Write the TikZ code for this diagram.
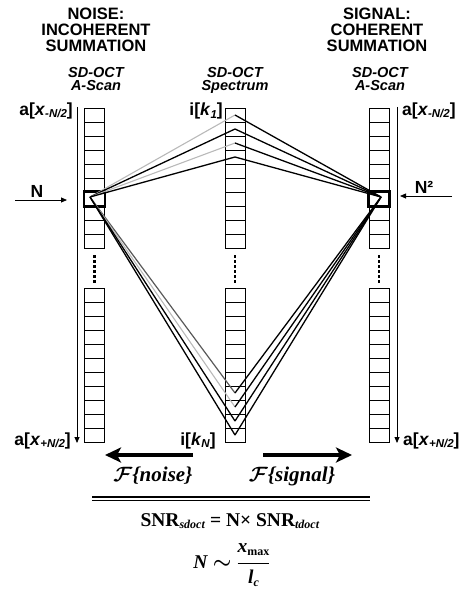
\documentclass[tikz,border=0pt]{standalone}
\usepackage{fontspec}
\setmainfont{Liberation Serif}
\setsansfont{Liberation Sans}
\usetikzlibrary{arrows.meta}

\newcommand{\sub}[2][11.5]{\raisebox{-0.3ex}{\fontsize{#1}{#1}\selectfont #2}}

\tikzset{
  cell/.style={draw, line width=0.7pt, minimum width=20pt, minimum height=14pt, inner sep=0pt},
  hilite/.style={line width=2.6pt},
  head/.style={align=center, inner sep=0pt, anchor=north, font=\sffamily\bfseries\fontsize{16.5}{16}\selectfont},
  scanlbl/.style={align=center, inner sep=0pt, anchor=north, font=\sffamily\bfseries\itshape\fontsize{14.5}{13.5}\selectfont},
  idx/.style={inner sep=0pt, font=\sffamily\bfseries\fontsize{17.5}{17}\selectfont},
  ray/.style={line width=1.3pt},
  faint/.style={line width=1.1pt, gray!55},
  dim/.style={line width=1.2pt, black!65},
  axis/.style={line width=0.8pt, -{Triangle[length=6pt,width=5pt]}},
  bigarrow/.style={line width=3.8pt, -{Stealth[length=16pt,width=15pt,inset=4pt]}},
  ftxt/.style={inner sep=0pt, font=\bfseries\itshape\boldmath\fontsize{21}{21}\selectfont},
  eqn/.style={inner sep=0pt, font=\bfseries\boldmath\fontsize{19.5}{19.5}\selectfont},
}

\begin{document}
\begin{tikzpicture}[x=1pt, y=-1pt]
  \useasboundingbox (0,0) rectangle (460,591);

  % 标题
  \node[head] (tnoise) at (96,8) {NOISE:\\INCOHERENT\\SUMMATION};
  \node[head] (tsignal) at (377,8) {SIGNAL:\\COHERENT\\SUMMATION};
  \node[scanlbl] (hl) at (96,67) {SD-OCT\\A-Scan};
  \node[scanlbl] (hc) at (235,67) {SD-OCT\\Spectrum};
  \node[scanlbl] (hr) at (380,67) {SD-OCT\\A-Scan};

  % 三列
  \foreach \col/\x in {L/94.5, C/235, R/379} {
    \foreach \i in {0,...,9}
      \node[cell] (\col\i) at (\x, 115+14*\i) {};
    \foreach \i in {0,...,10}
      \node[cell] (\col b\i) at (\x, 295+14*\i) {};
    \foreach \j in {0,...,5}
      \fill (\x-1.3, 255+5*\j) rectangle ++(2.6,2.6);
  }

  % 高亮单元
  \draw[hilite] (L6.north west) rectangle (L6.south east);
  \draw[hilite] (R6.north west) rectangle (R6.south east);

  % 光线
  \coordinate (pl) at (90,197);
  \coordinate (pr) at (381,197);
  \foreach \i/\sty in {0/faint, 1/ray, 2/faint, 3/ray} {
    \draw[\sty] (pl) -- (C\i.center);
    \draw[ray] (C\i.center) -- (pr);
  }
  \foreach \i/\sty in {7/dim, 8/faint, 9/ray, 10/ray} {
    \draw[\sty] (pl) -- (Cb\i.center);
    \draw[ray] (Cb\i.center) -- (pr);
  }

  % 坐标轴
  \coordinate (lt) at (77,107);
  \coordinate (lb) at (77,443);
  \coordinate (rt) at (397,107);
  \coordinate (rb) at (397,443);
  \draw[axis] (lt) -- (lb);
  \draw[axis] (rt) -- (rb);

  % N 箭头
  \coordinate (nl0) at (15,200);
  \coordinate (nl1) at (67,200);
  \coordinate (nr0) at (452,196);
  \coordinate (nr1) at (400,196);
  \draw[axis] (nl0) -- (nl1);
  \draw[axis] (nr0) -- (nr1);
  \node[idx, anchor=base] (nl) at (37,197) {N};
  \node[idx, anchor=base] (nr) at (424,193) {N²};

  % 下标
  \node[idx, anchor=base east] (al) at (73,115) {a[\textit{x}\sub{\textit{-N/2}}]};
  \node[idx, anchor=base east] (ik1) at (223,116) {i[\textit{k}\sub{\textit{1}}]};
  \node[idx, anchor=base west] (ar) at (402,115) {a[\textit{x}\sub{\textit{-N/2}}]};
  \node[idx, anchor=base east] (alb) at (71,445) {a[\textit{x}\sub{\textit{+N/2}}]};
  \node[idx, anchor=base east] (ikn) at (216,445) {i[\textit{k}\sub{\textit{N}}]};
  \node[idx, anchor=base west] (arb) at (403,445) {a[\textit{x}\sub{\textit{+N/2}}]};

  % 傅里叶变换
  \coordinate (fa0) at (193,455);
  \coordinate (fa1) at (105,455);
  \coordinate (fb0) at (263,455);
  \coordinate (fb1) at (352,455);
  \draw[bigarrow] (fa0) -- (fa1);
  \draw[bigarrow] (fb0) -- (fb1);
  \node[ftxt] (fn) at (153,476) {$\mathcal{F}$\{noise\}};
  \node[ftxt] (fs) at (292,476) {$\mathcal{F}$\{signal\}};

  % 公式
  \coordinate (d0) at (92,498.5);
  \coordinate (d1) at (370,498.5);
  \draw[double, double distance=2pt, line width=1.2pt] (d0) -- (d1);
  \node[eqn, anchor=base] (snr) at (230,526) {SNR\sub[12]{\textit{sdoct}} = N\texttimes\ SNR\sub[12]{\textit{tdoct}}};
  \node[eqn, anchor=base] (rel) at (232,568) {\textit{N} $\sim$ $\displaystyle\frac{\mbox{\textit{x}\sub[12]{max}}}{\mbox{\textit{l}\sub[12]{\textit{c}}}}$};
\end{tikzpicture}
\end{document}
